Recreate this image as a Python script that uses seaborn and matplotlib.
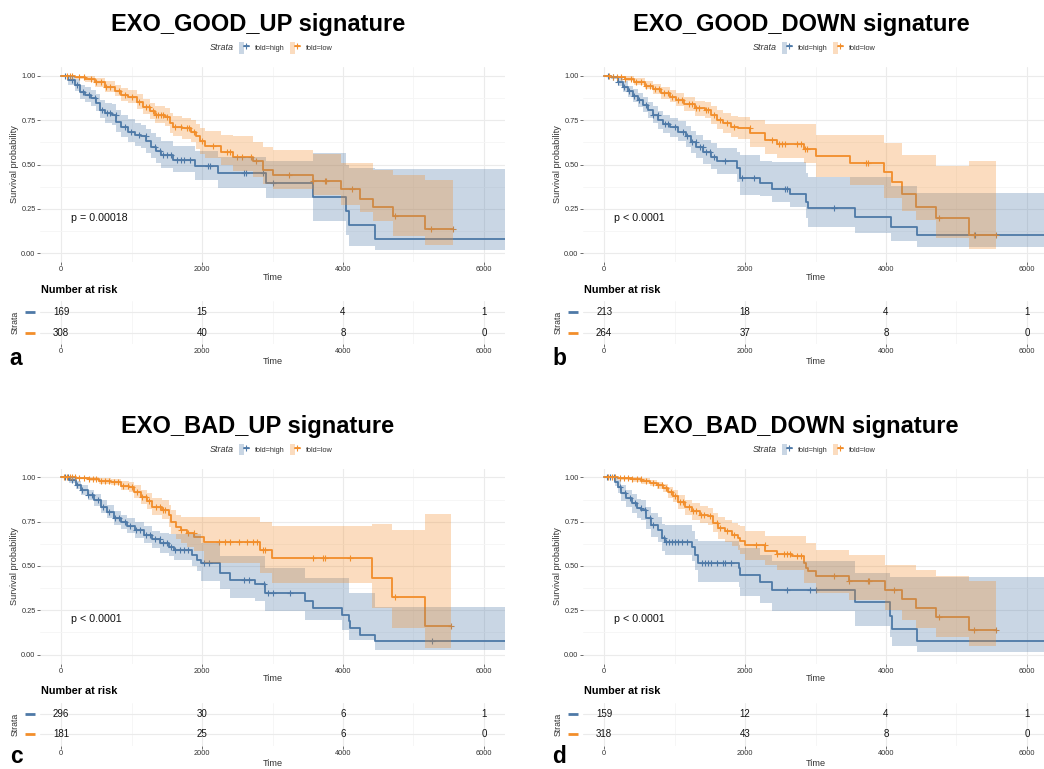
import numpy as np
import matplotlib
matplotlib.use('Agg')
import matplotlib.pyplot as plt
import matplotlib.transforms as mtransforms
from matplotlib.lines import Line2D
from matplotlib.patches import Patch
from matplotlib.legend_handler import HandlerTuple
import seaborn as sns

sns.set_theme(style='whitegrid')
plt.rcParams['font.family'] = ['Liberation Sans', 'DejaVu Sans']

# ---- data ----
titles = ['EXO_GOOD_UP signature', 'EXO_GOOD_DOWN signature',
          'EXO_BAD_UP signature', 'EXO_BAD_DOWN signature']
letters = ['a', 'b', 'c', 'd']
pvals = ['p = 0.00018', 'p < 0.0001', 'p < 0.0001', 'p < 0.0001']
strata = ['fold=high', 'fold=low']
risk_times = [0, 2000, 4000, 6000]
risk_high = [[169, 15, 4, 1], [213, 18, 4, 1], [296, 30, 6, 1], [159, 12, 4, 1]]
risk_low = [[308, 40, 8, 0], [264, 37, 8, 0], [181, 25, 6, 0], [318, 43, 8, 0]]

# panel a
a_high_t = [0, 100, 200, 270, 340, 430, 500, 550, 620, 715, 785, 855, 950, 1045, 1140, 1210,
            1280, 1350, 1420, 1590, 1900, 2230, 2910, 3570, 4050, 4085, 4450]
a_high_s = [1.0, 0.977, 0.949, 0.91, 0.893, 0.874, 0.846, 0.808, 0.789, 0.78, 0.742, 0.714, 0.686,
            0.667, 0.658, 0.63, 0.60, 0.577, 0.551, 0.526, 0.489, 0.451, 0.395, 0.315, 0.24, 0.158, 0.079]
a_high_lo = [1.0, 0.95, 0.915, 0.87, 0.85, 0.83, 0.80, 0.76, 0.735, 0.725, 0.685, 0.655, 0.625,
             0.605, 0.595, 0.565, 0.535, 0.51, 0.48, 0.455, 0.415, 0.37, 0.31, 0.18, 0.10, 0.04, 0.015]
a_high_hi = [1.0, 1.0, 0.985, 0.95, 0.94, 0.92, 0.895, 0.865, 0.845, 0.84, 0.805, 0.78, 0.755,
             0.735, 0.725, 0.70, 0.675, 0.655, 0.63, 0.605, 0.575, 0.545, 0.52, 0.565, 0.50, 0.48, 0.475]
a_high_cens = [60, 150, 230, 310, 400, 480, 580, 650, 700, 780, 900, 990, 1100, 1200, 1330, 1400,
               1450, 1500, 1560, 1650, 1700, 1750, 1830, 2080, 2110, 2600, 2620, 2860, 3010]
a_low_t = [0, 190, 335, 480, 620, 760, 855, 950, 1070, 1165, 1260, 1330, 1470, 1540, 1590, 1710,
           1850, 1920, 1970, 2040, 2275, 2440, 2725, 2865, 3010, 3575, 3975, 4235, 4425, 4710, 5170]
a_low_s = [1.0, 0.996, 0.983, 0.964, 0.94, 0.915, 0.893, 0.88, 0.855, 0.827, 0.799, 0.78, 0.77,
           0.733, 0.714, 0.705, 0.686, 0.658, 0.63, 0.607, 0.573, 0.545, 0.517, 0.47, 0.438, 0.408,
           0.36, 0.306, 0.258, 0.207, 0.135]
a_low_lo = [1.0, 0.985, 0.965, 0.94, 0.91, 0.885, 0.86, 0.845, 0.815, 0.785, 0.755, 0.735, 0.72,
            0.68, 0.66, 0.645, 0.625, 0.59, 0.56, 0.535, 0.495, 0.465, 0.43, 0.39, 0.36, 0.33,
            0.27, 0.23, 0.18, 0.094, 0.047]
a_low_hi = [1.0, 1.0, 1.0, 0.99, 0.97, 0.95, 0.93, 0.92, 0.895, 0.87, 0.845, 0.83, 0.82,
            0.79, 0.775, 0.765, 0.75, 0.73, 0.705, 0.69, 0.665, 0.66, 0.625, 0.60, 0.58, 0.56,
            0.51, 0.51, 0.47, 0.44, 0.41]
a_low_cens = [80, 120, 160, 250, 330, 420, 500, 560, 640, 700, 820, 900, 1000, 1100, 1200, 1250,
              1300, 1350, 1380, 1420, 1450, 1500, 1620, 1700, 1780, 1820, 1880, 2000, 2150, 2350,
              2400, 2500, 2560, 2700, 2760, 3240, 3580, 3740, 3760, 4130, 4740, 5250, 5560]

# panel b
b_high_t = [0, 100, 195, 265, 335, 410, 480, 550, 620, 690, 765, 835, 930, 1050, 1165, 1235, 1310,
            1405, 1520, 1595, 1885, 1930, 2215, 2380, 2645, 2870, 2895, 3565, 4065, 4445]
b_high_s = [1.0, 0.996, 0.968, 0.94, 0.912, 0.889, 0.865, 0.836, 0.808, 0.78, 0.752, 0.727, 0.709,
            0.686, 0.658, 0.626, 0.60, 0.573, 0.545, 0.517, 0.48, 0.423, 0.395, 0.363, 0.333, 0.29,
            0.254, 0.203, 0.15, 0.103]
b_high_lo = [1.0, 0.985, 0.945, 0.91, 0.88, 0.855, 0.825, 0.795, 0.765, 0.735, 0.70, 0.675, 0.655,
             0.63, 0.60, 0.565, 0.535, 0.505, 0.475, 0.445, 0.40, 0.33, 0.32, 0.29, 0.263, 0.20,
             0.15, 0.113, 0.066, 0.034]
b_high_hi = [1.0, 1.0, 0.99, 0.97, 0.945, 0.925, 0.905, 0.88, 0.855, 0.83, 0.80, 0.78, 0.765,
             0.745, 0.72, 0.69, 0.665, 0.64, 0.62, 0.595, 0.57, 0.555, 0.52, 0.513, 0.513, 0.45,
             0.432, 0.43, 0.376, 0.338]
b_high_cens = [60, 130, 200, 280, 350, 420, 500, 600, 700, 760, 860, 900, 1000, 1120, 1180, 1250,
               1300, 1360, 1400, 1450, 1500, 1560, 1720, 1950, 2120, 2560, 2590, 3260, 5270]
b_low_t = [0, 100, 290, 430, 575, 690, 810, 930, 1025, 1140, 1285, 1425, 1520, 1595, 1690, 1805,
           1900, 2075, 2285, 2450, 2830, 3000, 3485, 3970, 4090, 4230, 4420, 4705, 5180]
b_low_s = [1.0, 0.996, 0.983, 0.968, 0.945, 0.927, 0.902, 0.883, 0.865, 0.84, 0.818, 0.808, 0.78,
           0.752, 0.733, 0.714, 0.705, 0.68, 0.64, 0.617, 0.586, 0.55, 0.51, 0.455, 0.40, 0.333,
           0.263, 0.197, 0.103]
b_low_lo = [1.0, 0.99, 0.97, 0.95, 0.925, 0.90, 0.87, 0.85, 0.83, 0.80, 0.775, 0.76, 0.73, 0.70,
            0.68, 0.655, 0.645, 0.60, 0.56, 0.535, 0.507, 0.432, 0.385, 0.31, 0.31, 0.235, 0.188,
            0.085, 0.023]
b_low_hi = [1.0, 1.0, 1.0, 0.99, 0.97, 0.955, 0.935, 0.92, 0.905, 0.88, 0.86, 0.855, 0.83, 0.81,
            0.79, 0.775, 0.77, 0.75, 0.73, 0.73, 0.73, 0.667, 0.667, 0.62, 0.62, 0.555, 0.555,
            0.494, 0.52]
b_low_cens = [70, 120, 180, 240, 300, 380, 450, 520, 600, 650, 720, 780, 850, 900, 960, 1050, 1100,
              1200, 1250, 1300, 1350, 1450, 1480, 1560, 1650, 1750, 1850, 2070, 2380, 2480, 2530,
              2570, 2740, 2800, 2850, 2880, 3710, 3750, 4750, 5250, 5560]

# panel c
c_high_t = [0, 115, 210, 280, 375, 465, 560, 655, 750, 845, 940, 1055, 1175, 1295, 1410, 1530,
            1600, 1860, 1930, 1980, 2260, 2400, 2755, 2900, 3465, 3580, 3985, 4080, 4100, 4245, 4455]
c_high_s = [1.0, 0.985, 0.957, 0.929, 0.90, 0.872, 0.835, 0.806, 0.769, 0.75, 0.726, 0.703, 0.675,
            0.65, 0.628, 0.609, 0.59, 0.562, 0.534, 0.515, 0.46, 0.423, 0.398, 0.348, 0.305, 0.263,
            0.226, 0.188, 0.15, 0.113, 0.075]
c_high_lo = [1.0, 0.97, 0.935, 0.90, 0.87, 0.84, 0.80, 0.77, 0.73, 0.71, 0.685, 0.66, 0.63, 0.60,
             0.575, 0.555, 0.535, 0.50, 0.47, 0.413, 0.37, 0.32, 0.30, 0.244, 0.197, 0.197, 0.141,
             0.085, 0.085, 0.085, 0.028]
c_high_hi = [1.0, 1.0, 0.98, 0.955, 0.93, 0.905, 0.87, 0.845, 0.81, 0.79, 0.77, 0.75, 0.725, 0.70,
             0.685, 0.68, 0.68, 0.68, 0.68, 0.63, 0.555, 0.555, 0.555, 0.49, 0.43, 0.43, 0.43, 0.35,
             0.35, 0.35, 0.27]
c_high_cens = [50, 100, 150, 220, 300, 380, 440, 520, 600, 680, 760, 820, 900, 980, 1060, 1120,
               1200, 1260, 1330, 1400, 1450, 1500, 1560, 1620, 1680, 1750, 1800, 2030, 2100, 2590,
               2660, 2880, 2930, 3010, 3250, 5260]
c_low_t = [0, 210, 395, 540, 705, 845, 965, 1035, 1130, 1220, 1295, 1435, 1530, 1555, 1625, 1695,
           1790, 1885, 2025, 2825, 2990, 4410, 4690, 5165]
c_low_s = [1.0, 0.998, 0.99, 0.98, 0.972, 0.953, 0.945, 0.919, 0.89, 0.866, 0.835, 0.816, 0.788,
           0.75, 0.722, 0.703, 0.684, 0.665, 0.633, 0.592, 0.543, 0.432, 0.325, 0.163]
c_low_lo = [1.0, 0.99, 0.98, 0.965, 0.955, 0.93, 0.915, 0.885, 0.85, 0.82, 0.785, 0.765, 0.72,
            0.68, 0.65, 0.63, 0.61, 0.585, 0.517, 0.46, 0.404, 0.263, 0.15, 0.038]
c_low_hi = [1.0, 1.0, 1.0, 0.995, 0.99, 0.98, 0.975, 0.955, 0.93, 0.91, 0.885, 0.87, 0.845, 0.815,
            0.79, 0.775, 0.775, 0.774, 0.774, 0.75, 0.727, 0.737, 0.705, 0.793]
c_low_cens = [40, 80, 120, 160, 200, 260, 330, 400, 450, 500, 560, 620, 680, 750, 800, 880, 950,
              1000, 1080, 1150, 1200, 1250, 1350, 1400, 1450, 1480, 1700, 1800, 1880, 2240, 2330,
              2400, 2520, 2640, 2720, 2780, 2870, 2900, 3580, 3720, 3745, 4100, 4740, 5540]

# panel d
d_high_t = [0, 150, 200, 245, 315, 390, 460, 530, 600, 670, 765, 815, 860, 1240, 1290, 1335, 1910,
            1935, 2215, 2380, 3565, 4055, 4080, 4440]
d_high_s = [1.0, 0.975, 0.947, 0.91, 0.882, 0.853, 0.825, 0.816, 0.77, 0.732, 0.703, 0.657, 0.637,
            0.609, 0.562, 0.519, 0.489, 0.451, 0.41, 0.367, 0.297, 0.216, 0.147, 0.075]
d_high_lo = [1.0, 0.95, 0.91, 0.865, 0.835, 0.80, 0.77, 0.76, 0.71, 0.665, 0.635, 0.585, 0.56,
             0.53, 0.48, 0.41, 0.38, 0.33, 0.29, 0.248, 0.164, 0.10, 0.047, 0.015]
d_high_hi = [1.0, 1.0, 0.985, 0.955, 0.93, 0.905, 0.88, 0.875, 0.835, 0.80, 0.775, 0.735, 0.73,
             0.70, 0.655, 0.64, 0.62, 0.60, 0.56, 0.53, 0.46, 0.44, 0.438, 0.44]
d_high_cens = [40, 90, 140, 230, 300, 370, 440, 520, 580, 650, 700, 850, 880, 920, 960, 1000,
               1050, 1100, 1170, 1390, 1430, 1470, 1520, 1600, 1680, 1720, 1800, 2600, 2920, 3000]
d_low_t = [0, 200, 390, 530, 650, 745, 840, 910, 980, 1050, 1145, 1240, 1360, 1475, 1550, 1620,
           1715, 1810, 1905, 1935, 2000, 2285, 2455, 2665, 2830, 2860, 2900, 3000, 3470, 3990,
           4230, 4420, 4705, 5175]
d_low_s = [1.0, 0.994, 0.989, 0.98, 0.968, 0.955, 0.94, 0.915, 0.893, 0.859, 0.833, 0.808, 0.79,
           0.78, 0.743, 0.714, 0.695, 0.677, 0.658, 0.639, 0.617, 0.583, 0.57, 0.555, 0.517, 0.489,
           0.47, 0.445, 0.414, 0.367, 0.314, 0.263, 0.21, 0.141]
d_low_lo = [1.0, 0.985, 0.975, 0.965, 0.95, 0.935, 0.915, 0.885, 0.86, 0.82, 0.79, 0.76, 0.74,
            0.73, 0.69, 0.655, 0.635, 0.615, 0.59, 0.565, 0.535, 0.508, 0.48, 0.48, 0.404, 0.404,
            0.404, 0.348, 0.31, 0.254, 0.197, 0.15, 0.10, 0.047]
d_low_hi = [1.0, 1.0, 1.0, 0.995, 0.985, 0.975, 0.965, 0.945, 0.93, 0.90, 0.875, 0.855, 0.84,
            0.83, 0.80, 0.775, 0.76, 0.745, 0.73, 0.724, 0.70, 0.667, 0.667, 0.667, 0.667, 0.63,
            0.63, 0.59, 0.564, 0.508, 0.508, 0.48, 0.445, 0.417]
d_low_cens = [60, 110, 160, 220, 280, 340, 400, 460, 520, 600, 700, 760, 820, 880, 950, 1000,
              1080, 1120, 1200, 1260, 1300, 1380, 1420, 1500, 1600, 1650, 1750, 1850, 2150, 2280,
              2460, 2550, 2600, 2640, 2740, 2800, 3260, 3470, 3745, 3760, 4110, 4750, 5250, 5556]

high_end = [6300, 6300, 6300, 6300]
low_end = [5560, 5560, 5540, 5556]

highs = [(a_high_t, a_high_s, a_high_lo, a_high_hi, a_high_cens),
         (b_high_t, b_high_s, b_high_lo, b_high_hi, b_high_cens),
         (c_high_t, c_high_s, c_high_lo, c_high_hi, c_high_cens),
         (d_high_t, d_high_s, d_high_lo, d_high_hi, d_high_cens)]
lows = [(a_low_t, a_low_s, a_low_lo, a_low_hi, a_low_cens),
        (b_low_t, b_low_s, b_low_lo, b_low_hi, b_low_cens),
        (c_low_t, c_low_s, c_low_lo, c_low_hi, c_low_cens),
        (d_low_t, d_low_s, d_low_lo, d_low_hi, d_low_cens)]

blue = '#4E79A7'
orange = '#F28E2B'
txt = '#333333'
W, H = 1044, 769


def fbox(left, top, width, height):
    return [left / W, 1 - (top + height) / H, width / W, height / H]


def draw_km(ax, curve, end, color):
    t, s, lo, hi, cens = curve
    x = list(t) + [end]
    y = list(s) + [s[-1]]
    sns.lineplot(x=x, y=y, drawstyle='steps-post', estimator=None, sort=False,
                 color=color, lw=1.3, ax=ax, zorder=2)
    idx = np.searchsorted(t, cens, side='right') - 1
    ax.plot(cens, np.array(s)[idx], ls='none', marker='+', ms=4.5, mew=0.8,
            color=color, zorder=2)
    ax.fill_between(x, list(lo) + [lo[-1]], list(hi) + [hi[-1]], step='post',
                    color=color, alpha=0.3, lw=0, zorder=3)


def style_axis(ax):
    ax.set_xlim(-300, 6300)
    ax.set_xticks(risk_times)
    ax.set_xticks([1000, 3000, 5000], minor=True)
    ax.set_facecolor('white')
    for sp in ax.spines.values():
        sp.set_visible(False)
    ax.grid(which='major', color='#EBEBEB', lw=0.8)
    ax.grid(which='minor', color='#F5F5F5', lw=0.6)
    ax.set_axisbelow(True)
    ax.tick_params(which='major', bottom=True, left=True, length=2, width=0.5,
                   color=txt, labelcolor=txt, labelsize=5.3, pad=1.2)
    ax.tick_params(which='minor', length=0)


fig = plt.figure(figsize=(10.44, 7.69), dpi=100)

for k in range(4):
    dx = 543 * (k % 2)
    dy = 401.5 * (k // 2)

    ax = fig.add_axes(fbox(40 + dx, 67 + dy, 465, 195))
    style_axis(ax)
    draw_km(ax, highs[k], high_end[k], blue)
    draw_km(ax, lows[k], low_end[k], orange)
    ax.set_ylim(-0.05, 1.05)
    ax.set_yticks([0, 0.25, 0.5, 0.75, 1.0])
    ax.set_yticks([0.125, 0.375, 0.625, 0.875], minor=True)
    ax.set_yticklabels(['0.00', '0.25', '0.50', '0.75', '1.00'])
    ax.set_xticklabels([str(v) for v in risk_times])
    ax.set_xlabel('Time', fontsize=6.6, color=txt)
    ax.xaxis.set_label_coords(0.5, -15 / 195)
    ax.xaxis.label.set_va('center')
    ax.set_ylabel('Survival probability', fontsize=6.6, color=txt)
    ax.yaxis.set_label_coords(-25 / 465, 0.5)
    ax.yaxis.label.set_va('center')
    ax.text(140, 0.2, pvals[k], fontsize=7.7, ha='left', va='center', color='#111111')

    # title and legend
    fig.text((258 + dx) / W, 1 - (25 + dy) / H, titles[k], fontsize=17,
             fontweight='bold', ha='center', va='center', color='black')
    fig.text((210 + dx) / W, 1 - (48 + dy) / H, 'Strata', fontsize=6.5,
             style='italic', ha='left', va='center', color=txt)
    handles = [(Patch(facecolor=c, alpha=0.3, lw=0),
                Line2D([], [], color=c, lw=1.3, marker='+', ms=5, mew=0.8))
               for c in (blue, orange)]
    fig.legend(handles=handles, labels=strata, handler_map={tuple: HandlerTuple(ndivide=None)},
               loc='center left', bbox_to_anchor=((239 + dx) / W, 1 - (48 + dy) / H),
               ncol=2, frameon=False, fontsize=5.3, handlelength=1.3, handleheight=2.0,
               handletextpad=0.8, columnspacing=0.8, borderpad=0, borderaxespad=0,
               labelcolor=txt)

    # risk table
    tax = fig.add_axes(fbox(40 + dx, 301 + dy, 465, 43))
    style_axis(tax)
    tax.set_ylim(2.55, 0.45)
    tax.set_yticks([1, 2])
    tax.set_yticklabels([])
    tax.tick_params(axis='y', length=0)
    tax.set_xticklabels([str(v) for v in risk_times])
    for row, vals in enumerate([risk_high[k], risk_low[k]]):
        for xv, v in zip(risk_times, vals):
            tax.text(xv, row + 1, str(v), ha='center', va='center', fontsize=7, color='#111111')
    trans = mtransforms.blended_transform_factory(tax.transAxes, tax.transData)
    for row, c in enumerate((blue, orange)):
        tax.plot([-15 / 465, -5 / 465], [row + 1, row + 1], transform=trans, color=c,
                 lw=2, solid_capstyle='butt', clip_on=False)
    tax.set_xlabel('Time', fontsize=6.6, color=txt)
    tax.xaxis.set_label_coords(0.5, -18 / 43)
    tax.xaxis.label.set_va('center')
    tax.set_ylabel('Strata', fontsize=6.3, color=txt)
    tax.yaxis.set_label_coords(-25 / 465, 0.5)
    tax.yaxis.label.set_va('center')
    fig.text((40.7 + dx) / W, 1 - (290 + dy) / H, 'Number at risk', fontsize=7.8,
             fontweight='bold', ha='left', va='center', color='black')

    # panel letter; bottom row kept just inside the figure edge
    base = 365 + dy if k < 2 else 361.5 + dy
    fig.text((16 + dx) / W, 1 - base / H, letters[k], fontsize=16.4,
             fontweight='bold', ha='center', va='baseline', color='black')

fig.savefig('out.png', dpi=100)
